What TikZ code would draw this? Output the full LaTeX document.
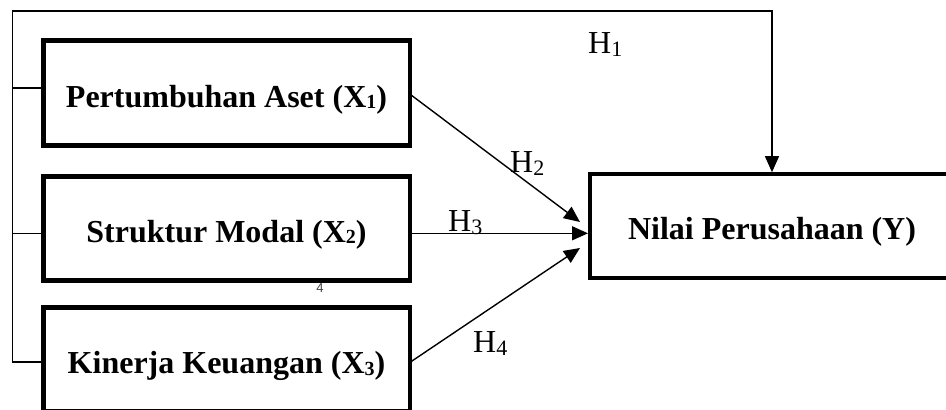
\documentclass[tikz,border=0pt]{standalone}
\usepackage{fontspec}
\setmainfont{Liberation Serif}
\newfontfamily\digitsans{Liberation Sans}
\usetikzlibrary{arrows.meta}
% subscripts sized for 32pt text
\newcommand\bsub[1]{\raisebox{-1.5pt}{\fontsize{20}{20}\selectfont #1}}
\newcommand\hsub[1]{\raisebox{-3pt}{\fontsize{22}{22}\selectfont #1}}

\begin{document}
\begin{tikzpicture}[x=1pt,y=-1pt,
  varbox/.style={draw, rectangle, line width=4.5pt, inner sep=0pt, outer sep=0pt,
    font=\fontsize{32}{38}\selectfont\bfseries, text height=28pt, text depth=0pt},
  link/.style={line width=1.4pt},
  arr/.style={link, -{Triangle[length=16pt,width=14pt]}},
  hyp/.style={anchor=base west, inner sep=0pt, font=\fontsize{32}{38}\selectfont}]
\useasboundingbox (0,0) rectangle (946,410);
\clip (0,0) rectangle (946,410);

% variable boxes
\node[varbox, minimum width=366.5pt, minimum height=105pt] (x1) at (226.5,93) {Pertumbuhan Aset (X\bsub{1})};
\node[varbox, minimum width=366.5pt, minimum height=104pt] (x2) at (226.5,228.3) {Struktur Modal (X\bsub{2})};
\node[varbox, minimum width=366.5pt, minimum height=104pt] (x3) at (226.5,359.5) {Kinerja Keuangan (X\bsub{3})};
\node[varbox, minimum width=364pt, minimum height=104pt, text height=26pt] (y) at (772,226.2) {Nilai Perusahaan (Y)};

% simultaneous path (H1)
\coordinate (tl) at (12.7,11);
\draw[link] ([yshift=5pt]x1.west) -- ([yshift=5pt]x1.west -| tl);
\draw[link] ([yshift=-5pt]x2.west) -- ([yshift=-5pt]x2.west -| tl);
\draw[arr, shorten >=2pt, line join=miter] ([yshift=-2.5pt]x3.west) -- ([yshift=-2.5pt]x3.west -| tl) -- (tl) -| (y.north);

% partial paths
\coordinate (h2tip) at (580,222);
\coordinate (h4tip) at (580,248);
\draw[arr] ([yshift=-1pt]x1.east) -- (h2tip);
\draw[arr, shorten >=2pt] ([yshift=-5pt]x2.east) -- ([yshift=-5pt]x2.east -| y.west);
\draw[arr] ([yshift=-3pt]x3.east) -- (h4tip);

% hypothesis labels
\node[hyp] (h1) at (588,53) {H\hsub{1}};
\node[hyp] (h2) at (510,172) {H\hsub{2}};
\node[hyp] (h3) at (448,231) {H\hsub{3}};
\node[hyp] (h4) at (473,352) {H\hsub{4}};

% stray page digit
\node[font=\digitsans\fontsize{13}{13}\selectfont, text=black!75, inner sep=0pt] (pg) at (320,288.5) {4};
\end{tikzpicture}
\end{document}
